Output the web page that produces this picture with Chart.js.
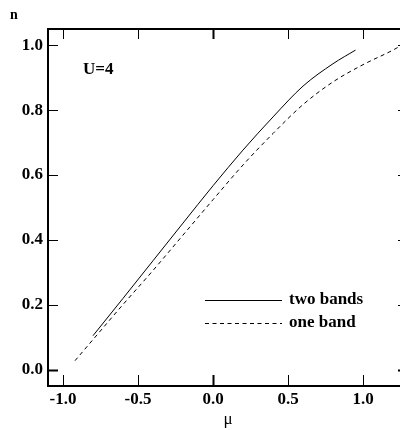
<!DOCTYPE html>
<html>
<head>
<meta charset="utf-8">
<script src="https://cdn.jsdelivr.net/npm/chart.js@4.4.1/dist/chart.umd.min.js"></script>
<style>
  html, body { margin: 0; padding: 0; background: #fff; overflow: hidden; width: 400px; height: 430px; }
  canvas { display: block; }
</style>
</head>
<body>
<canvas id="c" width="410" height="430"></canvas>
<script>
// Filling n versus chemical potential mu at U=4
const muTwoBands = [-0.80, -0.60, -0.40, -0.20, 0.00, 0.20, 0.40, 0.60, 0.80, 0.95];
const nTwoBands  = [0.105, 0.220, 0.336, 0.452, 0.567, 0.677, 0.779, 0.874, 0.943, 0.985];

const muOneBand = [-0.92, -0.80, -0.60, -0.40, -0.20, 0.00, 0.20, 0.40, 0.60, 0.80, 1.00, 1.20, 1.25];
const nOneBand  = [0.028, 0.093, 0.201, 0.306, 0.415, 0.524, 0.631, 0.728, 0.817, 0.887, 0.940, 0.985, 0.998];

const xTickValues = [-1.0, -0.5, 0.0, 0.5, 1.0];
const yTickValues = [0.0, 0.2, 0.4, 0.6, 0.8, 1.0];

const seriesNames = ['two bands', 'one band'];
const panelLabel = 'U=4';
const xTitle = 'μ';
const yTitle = 'n';

const FONT = "'Liberation Serif', 'Times New Roman', serif";

const toPoints = (xs, ys) => xs.map((x, i) => ({ x, y: ys[i] }));

// Frame, inward tick marks, annotation and in-plot legend
const framePlugin = {
  id: 'frame',
  afterDatasetsDraw(chart) {
    const { ctx, chartArea: a, scales } = chart;
    const xs = scales.x, ys = scales.y;
    ctx.save();
    ctx.strokeStyle = '#000';
    ctx.lineCap = 'butt';

    // top and right sides of the box
    ctx.lineWidth = 2;
    ctx.beginPath();
    ctx.moveTo(a.left - 1, a.top);
    ctx.lineTo(a.right, a.top);
    ctx.lineTo(a.right, a.bottom);
    ctx.stroke();

    // ticks pointing into the plot on all four sides
    xTickValues.forEach(v => {
      const px = Math.round(xs.getPixelForValue(v)) + 0.5;
      ctx.lineWidth = v === 0 ? 2 : 1;
      ctx.beginPath();
      ctx.moveTo(px, a.bottom);
      ctx.lineTo(px, a.bottom - 11);
      ctx.moveTo(px, a.top);
      ctx.lineTo(px, a.top + 10);
      ctx.stroke();
    });
    yTickValues.forEach(v => {
      const py = Math.round(ys.getPixelForValue(v)) + 0.5;
      ctx.lineWidth = v === 0 ? 2 : 1;
      ctx.beginPath();
      ctx.moveTo(a.left, py);
      ctx.lineTo(a.left + 10, py);
      ctx.moveTo(a.right, py);
      ctx.lineTo(a.right - 10, py);
      ctx.stroke();
    });

    // axis name for n, and the U label
    ctx.fillStyle = '#000';
    ctx.textBaseline = 'middle';
    ctx.textAlign = 'left';
    ctx.font = `bold 14px ${FONT}`;
    ctx.fillText(yTitle, 10, 15);
    ctx.font = `bold 17px ${FONT}`;
    ctx.fillText(panelLabel, 83, 70);

    // legend entries drawn with each dataset's own line style
    const rows = [300.5, 323.5];
    chart.data.datasets.forEach((ds, i) => {
      ctx.lineWidth = ds.borderWidth;
      ctx.strokeStyle = ds.borderColor;
      ctx.setLineDash(ds.borderDash || []);
      ctx.beginPath();
      ctx.moveTo(205, rows[i]);
      ctx.lineTo(282, rows[i]);
      ctx.stroke();
      ctx.setLineDash([]);
      ctx.fillStyle = '#000';
      ctx.font = `bold 17px ${FONT}`;
      ctx.fillText(ds.label, 289, rows[i] - 0.5);
    });
    ctx.restore();
  }
};

new Chart(document.getElementById('c'), {
  type: 'scatter',
  data: {
    datasets: [
      {
        label: seriesNames[0],
        data: toPoints(muTwoBands, nTwoBands),
        showLine: true,
        borderColor: '#000',
        borderWidth: 1,
        pointRadius: 0,
        cubicInterpolationMode: 'monotone'
      },
      {
        label: seriesNames[1],
        data: toPoints(muOneBand, nOneBand),
        showLine: true,
        borderColor: '#000',
        borderWidth: 1,
        borderDash: [4, 3.5],
        pointRadius: 0,
        cubicInterpolationMode: 'monotone'
      }
    ]
  },
  options: {
    responsive: false,
    animation: false,
    devicePixelRatio: 1,
    layout: { padding: { top: 29, right: 2, left: 0, bottom: 0 } },
    plugins: { legend: { display: false }, tooltip: { enabled: false } },
    scales: {
      x: {
        type: 'linear',
        min: -1.1,
        max: 1.3,
        afterBuildTicks: s => { s.ticks = xTickValues.map(v => ({ value: v })); },
        afterFit: s => { s.height = 44; },
        grid: { display: true, drawOnChartArea: false, drawTicks: false },
        border: { display: true, width: 2, color: '#000' },
        ticks: {
          color: '#000',
          padding: 3,
          maxRotation: 0,
          autoSkip: false,
          font: { family: FONT, size: 17, weight: 'bold' },
          callback: v => v.toFixed(1)
        },
        title: {
          display: true,
          text: xTitle,
          color: '#000',
          padding: 0,
          font: { family: FONT, size: 17 }
        }
      },
      y: {
        type: 'linear',
        min: -0.05,
        max: 1.05,
        afterBuildTicks: s => { s.ticks = yTickValues.map(v => ({ value: v })); },
        afterFit: s => { s.width = 48; },
        grid: { display: true, drawOnChartArea: false, drawTicks: false },
        border: { display: true, width: 2, color: '#000' },
        ticks: {
          color: '#000',
          padding: 5,
          autoSkip: false,
          font: { family: FONT, size: 17, weight: 'bold' },
          callback: v => v.toFixed(1)
        }
      }
    }
  },
  plugins: [framePlugin]
});
</script>
</body>
</html>
